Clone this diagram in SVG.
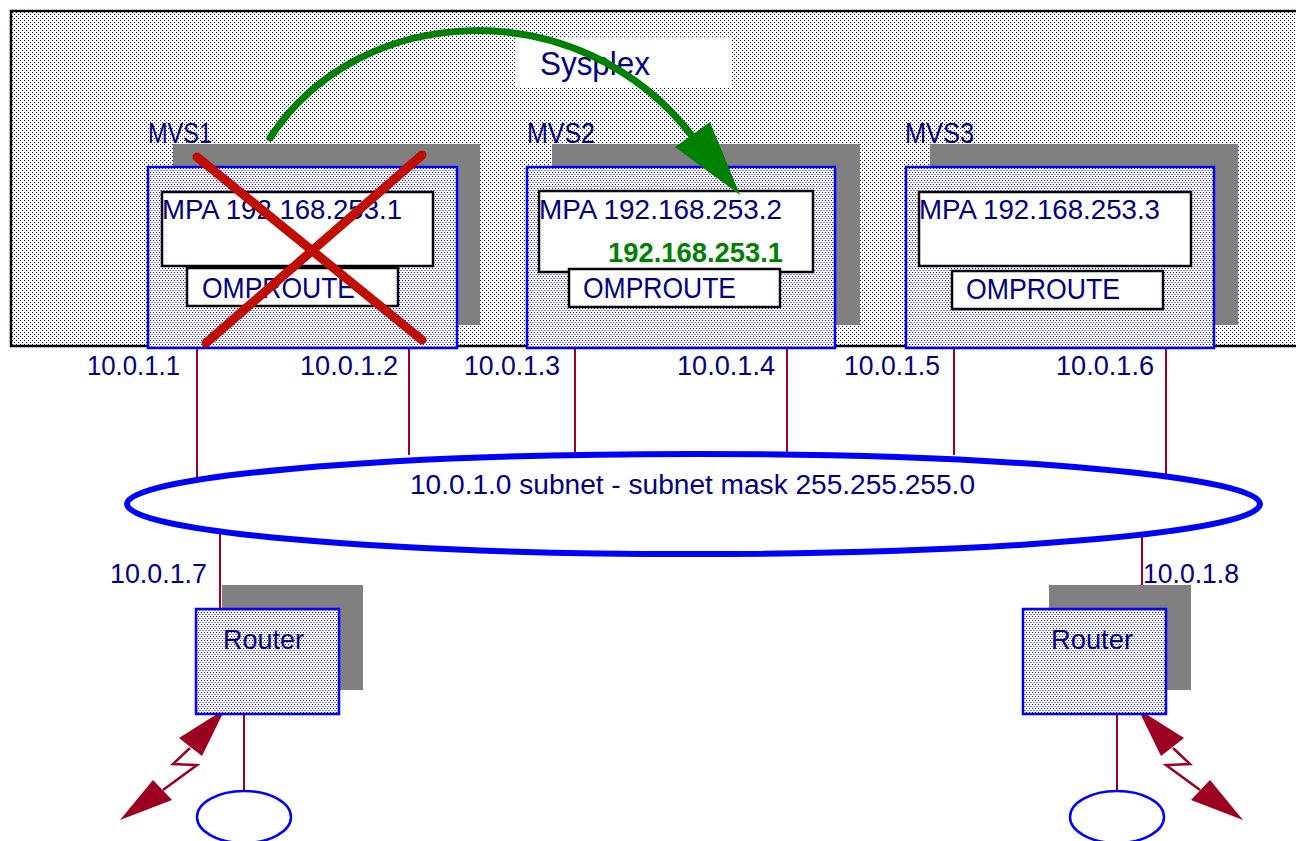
<svg xmlns="http://www.w3.org/2000/svg" width="1296" height="841" viewBox="0 0 1296 841">
<defs>
<pattern id="dotNavy" width="4" height="4" patternUnits="userSpaceOnUse">
<rect width="4" height="4" fill="#ffffff"/>
<rect x="0" y="0" width="1" height="1" fill="#000080"/>
<rect x="2" y="2" width="1" height="1" fill="#000080"/>
</pattern>
<pattern id="dotBlue" width="3" height="4" patternUnits="userSpaceOnUse">
<rect width="3" height="4" fill="#ffffff"/>
<rect x="0" y="0" width="1" height="1" fill="#0000ff"/>
<rect x="1.5" y="2" width="1" height="1" fill="#0000ff"/>
</pattern>
<style>
.t{font-family:"Liberation Sans",Arial,sans-serif;fill:#000080}
.shadow{fill:#808080}
.sys{fill:url(#dotBlue);stroke:#0000ff;stroke-width:2.5}
.wbox{fill:#ffffff;stroke:#000000;stroke-width:2.5}
.link{stroke:#9c0020;stroke-width:2;fill:none}
.bolt{stroke:#9c0020;stroke-width:2.5;fill:none}
.head{fill:#9c0020}
</style>
</defs>

<g id="sysplex">
<rect x="11" y="11" width="1300" height="335" fill="url(#dotNavy)" stroke="#000000" stroke-width="2.5"/>
<rect x="516" y="37" width="216" height="51" fill="#ffffff"/>
<text class="t" x="540" y="75" font-size="33" textLength="110" lengthAdjust="spacingAndGlyphs">Sysplex</text>
</g>

<g id="connectors">
<line class="link" x1="197" y1="348" x2="197" y2="478"/>
<line class="link" x1="409" y1="348" x2="409" y2="455"/>
<line class="link" x1="575" y1="348" x2="575" y2="455"/>
<line class="link" x1="787" y1="348" x2="787" y2="455"/>
<line class="link" x1="954" y1="348" x2="954" y2="455"/>
<line class="link" x1="1166" y1="348" x2="1166" y2="479"/>
<line class="link" x1="220" y1="533" x2="220" y2="609"/>
<line class="link" x1="1142" y1="533" x2="1142" y2="609"/>
<line class="link" x1="244" y1="714" x2="244" y2="791"/>
<line class="link" x1="1117" y1="714" x2="1117" y2="791"/>
<polyline class="bolt" points="190,748 173,764 197,765 163,790"/>
<polygon class="head" points="225,709 179,738 202,756"/>
<polygon class="head" points="120,820 153,780 172,800"/>
<polyline class="bolt" points="1173,748 1190,764 1166,765 1200,790"/>
<polygon class="head" points="1138,709 1184,738 1161,756"/>
<polygon class="head" points="1243,820 1210,780 1191,800"/>
</g>

<g id="mvs1">
<text class="t" x="148" y="143" font-size="29" textLength="64" lengthAdjust="spacingAndGlyphs">MVS1</text>
<rect class="shadow" x="173" y="144" width="307" height="181"/>
<rect class="sys" x="148" y="167" width="309" height="181"/>
<rect class="wbox" x="162" y="192" width="271" height="74"/>
<text class="t" x="162" y="219" font-size="28" textLength="240" lengthAdjust="spacingAndGlyphs">MPA 192.168.253.1</text>
<rect class="wbox" x="187" y="268" width="211" height="38"/>
<text class="t" x="202" y="298" font-size="29" textLength="153" lengthAdjust="spacingAndGlyphs">OMPROUTE</text>
</g>

<g id="mvs2">
<text class="t" x="527" y="143" font-size="29" textLength="68" lengthAdjust="spacingAndGlyphs">MVS2</text>
<rect class="shadow" x="552" y="144" width="308" height="181"/>
<rect class="sys" x="527" y="167" width="308" height="181"/>
<rect class="wbox" x="539" y="191" width="274" height="81"/>
<text class="t" x="539" y="219" font-size="28" textLength="243" lengthAdjust="spacingAndGlyphs">MPA 192.168.253.2</text>
<text x="608" y="262" font-family="Liberation Sans, Arial, sans-serif" font-size="28" font-weight="bold" fill="#008000" textLength="175" lengthAdjust="spacingAndGlyphs">192.168.253.1</text>
<rect class="wbox" x="569" y="269" width="211" height="38"/>
<text class="t" x="583" y="298" font-size="29" textLength="153" lengthAdjust="spacingAndGlyphs">OMPROUTE</text>
</g>

<g id="mvs3">
<text class="t" x="905" y="143" font-size="29" textLength="69" lengthAdjust="spacingAndGlyphs">MVS3</text>
<rect class="shadow" x="930" y="144" width="308" height="181"/>
<rect class="sys" x="906" y="167" width="308" height="181"/>
<rect class="wbox" x="919" y="192" width="272" height="74"/>
<text class="t" x="919" y="219" font-size="28" textLength="241" lengthAdjust="spacingAndGlyphs">MPA 192.168.253.3</text>
<rect class="wbox" x="952" y="271" width="211" height="38"/>
<text class="t" x="966" y="299" font-size="29" textLength="154" lengthAdjust="spacingAndGlyphs">OMPROUTE</text>
</g>

<g id="failure-mark">
<line x1="197" y1="157" x2="422" y2="340" stroke="#c00d00" stroke-width="9" stroke-linecap="round"/>
<line x1="422" y1="155" x2="206" y2="343" stroke="#c00d00" stroke-width="9" stroke-linecap="round"/>
</g>

<g id="takeover-arrow">
<path d="M270,138 C360,0 580,-10 693,137" fill="none" stroke="#008000" stroke-width="7" stroke-linecap="round"/>
<polygon points="675,147 710,122 740,195" fill="#008000"/>
</g>

<g id="ip-labels">
<text class="t" x="87" y="375" font-size="27" textLength="93" lengthAdjust="spacingAndGlyphs">10.0.1.1</text>
<text class="t" x="300" y="375" font-size="27" textLength="98" lengthAdjust="spacingAndGlyphs">10.0.1.2</text>
<text class="t" x="464" y="375" font-size="27" textLength="96" lengthAdjust="spacingAndGlyphs">10.0.1.3</text>
<text class="t" x="677" y="375" font-size="27" textLength="98" lengthAdjust="spacingAndGlyphs">10.0.1.4</text>
<text class="t" x="844" y="375" font-size="27" textLength="96" lengthAdjust="spacingAndGlyphs">10.0.1.5</text>
<text class="t" x="1056" y="375" font-size="27" textLength="98" lengthAdjust="spacingAndGlyphs">10.0.1.6</text>
<text class="t" x="110" y="583" font-size="27" textLength="97" lengthAdjust="spacingAndGlyphs">10.0.1.7</text>
<text class="t" x="1143" y="583" font-size="27" textLength="96" lengthAdjust="spacingAndGlyphs">10.0.1.8</text>
</g>

<g id="subnet">
<ellipse cx="693.5" cy="504" rx="566.5" ry="50" fill="none" stroke="#0000ff" stroke-width="6"/>
<text class="t" x="410" y="494" font-size="27" textLength="565" lengthAdjust="spacingAndGlyphs">10.0.1.0 subnet - subnet mask 255.255.255.0</text>
</g>

<g id="router1">
<rect class="shadow" x="222" y="585" width="141" height="105"/>
<rect class="sys" x="196" y="609" width="143" height="105"/>
<text class="t" x="223" y="649" font-size="28" textLength="81" lengthAdjust="spacingAndGlyphs">Router</text>
</g>

<g id="router2">
<rect class="shadow" x="1049" y="585" width="142" height="105"/>
<rect class="sys" x="1023" y="609" width="143" height="105"/>
<text class="t" x="1051" y="649" font-size="28" textLength="82" lengthAdjust="spacingAndGlyphs">Router</text>
</g>

<g id="lan1">
<ellipse cx="244" cy="817" rx="47" ry="26" fill="#ffffff" stroke="#0000ff" stroke-width="2.5"/>
</g>
<g id="lan2">
<ellipse cx="1117" cy="817" rx="47" ry="26" fill="#ffffff" stroke="#0000ff" stroke-width="2.5"/>
</g>
</svg>
